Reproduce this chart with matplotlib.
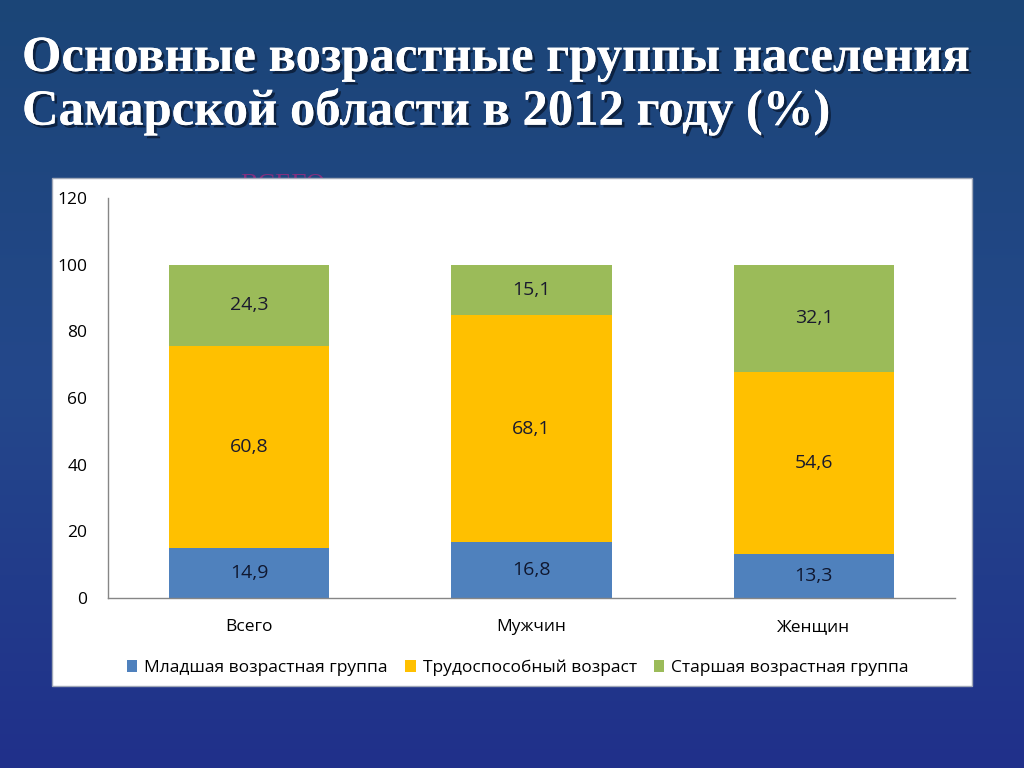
import numpy as np
import matplotlib
matplotlib.use("Agg")
import matplotlib.pyplot as plt
from matplotlib.patches import Rectangle
import matplotlib.patheffects as pe
from matplotlib.colors import LinearSegmentedColormap

# ---- data ----
categories = ["Всего", "Мужчин", "Женщин"]
series_names = ["Младшая возрастная группа", "Трудоспособный возраст", "Старшая возрастная группа"]
young = [14.9, 16.8, 13.3]
working = [60.8, 68.1, 54.6]
old = [24.3, 15.1, 32.1]
yticks = [0, 20, 40, 60, 80, 100, 120]
title_text = "Основные возрастные группы населения\nСамарской области в 2012 году (%)"

colors = ["#4f81bd", "#ffc000", "#9bbb59"]
sans = ["Open Sans", "DejaVu Sans"]

W, H = 1024, 768
fig = plt.figure(figsize=(W / 100, H / 100), dpi=100)

# background gradient
bg = fig.add_axes([0, 0, 1, 1], zorder=0)
bg.set_axis_off()
cmap = LinearSegmentedColormap.from_list("bg", ["#1b4577", "#24488b", "#20308a"])
grad = np.linspace(0, 1, 256).reshape(-1, 1)
bg.imshow(grad, aspect="auto", cmap=cmap, extent=[0, 1, 0, 1], origin="upper")
bg.set_xlim(0, 1)
bg.set_ylim(0, 1)

# title with shadow
fig.text(22 / W, 1 - 36 / H, title_text, ha="left", va="top", color="white",
         fontsize=36.5, fontweight="bold", family=["Liberation Serif", "DejaVu Serif"],
         linespacing=1.17, zorder=2,
         path_effects=[pe.withSimplePatchShadow(offset=(2, -2), shadow_rgbFace="#0a1a33", alpha=0.8),
                       pe.Normal()])

# ghost text behind panel
fig.text(240 / W, 1 - 191 / H, "ВСЕГО", ha="left", va="baseline", color="#83307f",
         fontsize=19, family=["Liberation Serif", "DejaVu Serif"], zorder=1)

# white panel
panel = Rectangle((52 / W, 1 - 686 / H), (972 - 52) / W, (686 - 178) / H,
                  transform=fig.transFigure, facecolor="white", edgecolor="#a0a8b8",
                  linewidth=1, zorder=3)
fig.patches.append(panel)

# chart axes
ax = fig.add_axes([108 / W, 1 - 598 / H, (955 - 108) / W, 400 / H], zorder=4)
ax.set_facecolor("none")
x = np.arange(len(categories))
width = 0.567
bottoms = np.zeros(len(categories))
for vals, c, name in zip([young, working, old], colors, series_names):
    ax.bar(x, vals, width, bottom=bottoms, color=c, label=name, zorder=2)
    for xi, b, v in zip(x, bottoms, vals):
        ax.text(xi, b + v / 2, f"{v:.1f}".replace(".", ","), ha="center", va="center",
                fontsize=14, color="#1a1a2e" if c != colors[0] else "#101830",
                family=sans, zorder=3)
    bottoms += np.array(vals)

ax.set_xlim(-0.5, len(categories) - 0.5)
ax.set_ylim(0, 120)
ax.set_yticks(yticks)
ax.set_yticklabels([str(t) for t in yticks], family=sans, fontsize=12.5)
ax.set_xticks(x)
ax.set_xticklabels(categories, family=sans, fontsize=12.5)
ax.tick_params(axis="both", length=0, colors="black")
ax.tick_params(axis="y", pad=15)
ax.tick_params(axis="x", pad=15)
for s in ["top", "right"]:
    ax.spines[s].set_visible(False)
for s in ["left", "bottom"]:
    ax.spines[s].set_color("#868686")
    ax.spines[s].set_linewidth(1)

ax.legend(loc="upper center", bbox_to_anchor=(0.484, -0.115), ncol=3, frameon=False,
          prop={"family": sans, "size": 12.5}, handlelength=0.6, handleheight=0.6,
          handletextpad=0.4, columnspacing=1.0)

fig.savefig("out.png", dpi=100)
